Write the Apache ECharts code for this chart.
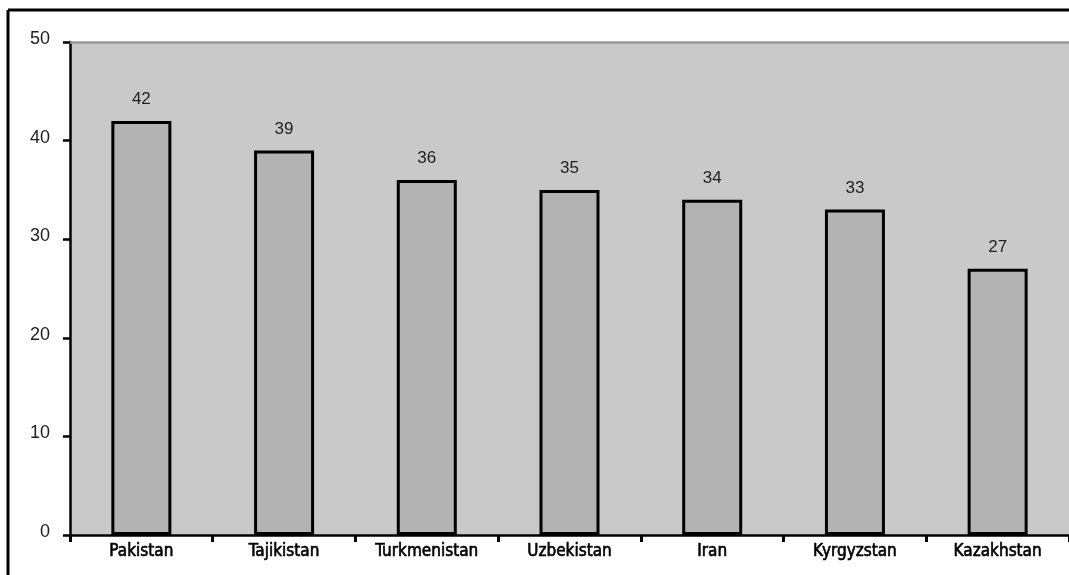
<!DOCTYPE html>
<html>
<head>
<meta charset="utf-8">
<script src="https://cdn.jsdelivr.net/npm/echarts@6/dist/echarts.min.js"></script>
<style>
  html, body { margin: 0; padding: 0; background: #ffffff; }
  #chart { width: 1069px; height: 575px; }
</style>
</head>
<body>
<div id="chart"></div>
<script>
// Countries and their values
const countries = ['Pakistan', 'Tajikistan', 'Turkmenistan', 'Uzbekistan', 'Iran', 'Kyrgyzstan', 'Kazakhstan'];
const values = [42, 39, 36, 35, 34, 33, 27];
const yTicks = [0, 10, 20, 30, 40, 50];

const chart = echarts.init(document.getElementById('chart'), null, { renderer: 'canvas' });

chart.setOption({
  animation: false,
  backgroundColor: '#ffffff',
  grid: {
    left: 70, right: 0, top: 42, bottom: 40,
    show: true, backgroundColor: '#c9c9c9', borderWidth: 0
  },
  graphic: [
    // frame lines along the top and left edges of the figure
    { type: 'line', shape: { x1: 8, y1: 10, x2: 1069, y2: 10 }, style: { stroke: '#000', lineWidth: 3 } },
    { type: 'line', shape: { x1: 8, y1: 10, x2: 8, y2: 575 }, style: { stroke: '#000', lineWidth: 3 } }
  ],
  xAxis: [
    {
      type: 'category',
      data: countries,
      position: 'bottom',
      axisLine: { show: true, lineStyle: { color: '#000', width: 2.5 } },
      axisTick: { show: true, alignWithLabel: false, length: 7, lineStyle: { color: '#000', width: 3 } },
      axisLabel: {
        color: '#000',
        fontFamily: "'DejaVu Sans Condensed', sans-serif",
        fontSize: 17,
        margin: 8,
        textBorderColor: '#000',
        textBorderWidth: 0.6
      }
    },
    {
      // top edge of the plotting area
      type: 'category',
      data: countries,
      position: 'top',
      axisLine: { show: true, lineStyle: { color: '#999999', width: 2.5 } },
      axisTick: { show: false },
      axisLabel: { show: false }
    }
  ],
  yAxis: {
    type: 'value',
    min: yTicks[0],
    max: yTicks[yTicks.length - 1],
    interval: 10,
    axisLine: { show: true, lineStyle: { color: '#000', width: 2.5 } },
    axisTick: { show: true, length: 7, lineStyle: { color: '#000', width: 2.5 } },
    splitLine: { show: false },
    axisLabel: {
      color: '#222',
      fontFamily: "'Liberation Sans', Arial, sans-serif",
      fontSize: 18,
      margin: 20,
      verticalAlign: 'bottom',
      lineHeight: 6
    }
  },
  series: [{
    type: 'bar',
    xAxisIndex: 0,
    data: values,
    barWidth: 60,
    itemStyle: { color: '#b3b3b3', borderColor: '#000', borderWidth: 3 },
    label: {
      show: true,
      position: 'top',
      distance: 13,
      color: '#222',
      fontFamily: "'Liberation Sans', Arial, sans-serif",
      fontSize: 17
    }
  }]
});
</script>
</body>
</html>
